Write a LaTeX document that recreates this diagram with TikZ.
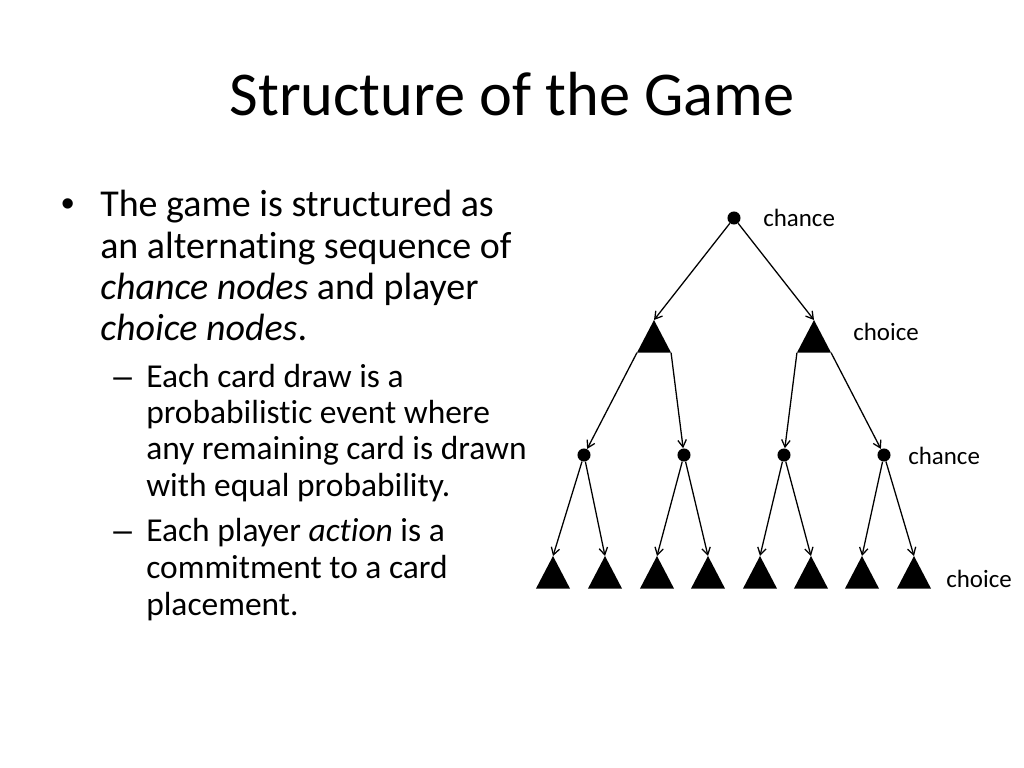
\documentclass[tikz,border=0pt]{standalone}
\usepackage{fontspec}
\setmainfont{Carlito}[Ligatures=NoCommon]
\newfontfamily\bulletfont{Liberation Sans}
\usetikzlibrary{shapes.geometric, arrows.meta, positioning}

\begin{document}
\begin{tikzpicture}[
  x=0.703125bp, y=-0.703125bp,
  chancedot/.style={circle, fill, inner sep=0pt, minimum size=9.2bp},
  choicetri/.style={isosceles triangle, isosceles triangle stretches, shape border rotate=90,
    fill, inner sep=0pt, outer sep=0pt, minimum width=24bp, minimum height=23bp, anchor=apex},
  link/.style={-{Straight Barb[length=5bp, width=6bp]}, line width=0.9bp},
  lbl/.style={anchor=base west, inner sep=0pt, font=\fontsize{17.6}{21}\selectfont},
  body/.style={anchor=base west, inner sep=0pt, font=\fontsize{26.8}{32}\selectfont},
  subtxt/.style={anchor=base west, inner sep=0pt, font=\fontsize{23.6}{28}\selectfont}
]
  \fill[white] (0,0) rectangle (1024,768);
  \useasboundingbox (0,0) rectangle (1024,768);

  % title
  \node[anchor=base, inner sep=0pt, font=\fontsize{44}{53}\selectfont] (title) at (512,116) {Structure of the Game};

  % bullet text
  \node[body] (b1) at (61,217) {\bulletfont •};
  \node[body] (t1) at (100,217) {The game is structured as};
  \node[body] (t2) at (100,258) {an alternating sequence of};
  \node[body] (t3) at (100,299) {\textit{chance nodes} and player};
  \node[body] (t4) at (100,340) {\textit{choice nodes}.};

  \node[subtxt] (b2) at (113,387) {\bulletfont –};
  \node[subtxt] (s1) at (146,387) {Each card draw is a};
  \node[subtxt] (s2) at (146,423) {probabilistic event where};
  \node[subtxt] (s3) at (146,459) {any remaining card is drawn};
  \node[subtxt] (s4) at (146,496) {with equal probability.};
  \node[subtxt] (b3) at (113,541) {\bulletfont –};
  \node[subtxt] (s5) at (146,541) {Each player \textit{action} is a};
  \node[subtxt] (s6) at (146,578) {commitment to a card};
  \node[subtxt] (s7) at (146,615) {placement.};

  % tree
  \node[chancedot] (root) at (734,218) {};
  \node[choicetri] (c1) at (654,320) {};
  \node[choicetri] (c2) at (814,320) {};
  \node[chancedot] (d1) at (584,455) {};
  \node[chancedot] (d2) at (684,455) {};
  \node[chancedot] (d3) at (784,455) {};
  \node[chancedot] (d4) at (884,455) {};
  \node[choicetri] (l1) at (553,556) {};
  \node[choicetri] (l2) at (605,556) {};
  \node[choicetri] (l3) at (657,556) {};
  \node[choicetri] (l4) at (708,556) {};
  \node[choicetri] (l5) at (760,556) {};
  \node[choicetri] (l6) at (811,556) {};
  \node[choicetri] (l7) at (862,556) {};
  \node[choicetri] (l8) at (914,556) {};

  \draw[link] (root) -- (c1.apex);
  \draw[link] (root) -- (c2.apex);
  \draw[link] (c1.left corner) -- (d1);
  \draw[link] (c1.right corner) -- (d2);
  \draw[link] (c2.left corner) -- (d3);
  \draw[link] (c2.right corner) -- (d4);
  \draw[link] (d1) -- (l1.apex);
  \draw[link] (d1) -- (l2.apex);
  \draw[link] (d2) -- (l3.apex);
  \draw[link] (d2) -- (l4.apex);
  \draw[link] (d3) -- (l5.apex);
  \draw[link] (d3) -- (l6.apex);
  \draw[link] (d4) -- (l7.apex);
  \draw[link] (d4) -- (l8.apex);

  % level labels
  \node[lbl] (lab1) at (763,226) {chance};
  \node[lbl] (lab2) at (853,340) {choice};
  \node[lbl] (lab3) at (908,464) {chance};
  \node[lbl] (lab4) at (946,587) {choice};
\end{tikzpicture}
\end{document}
